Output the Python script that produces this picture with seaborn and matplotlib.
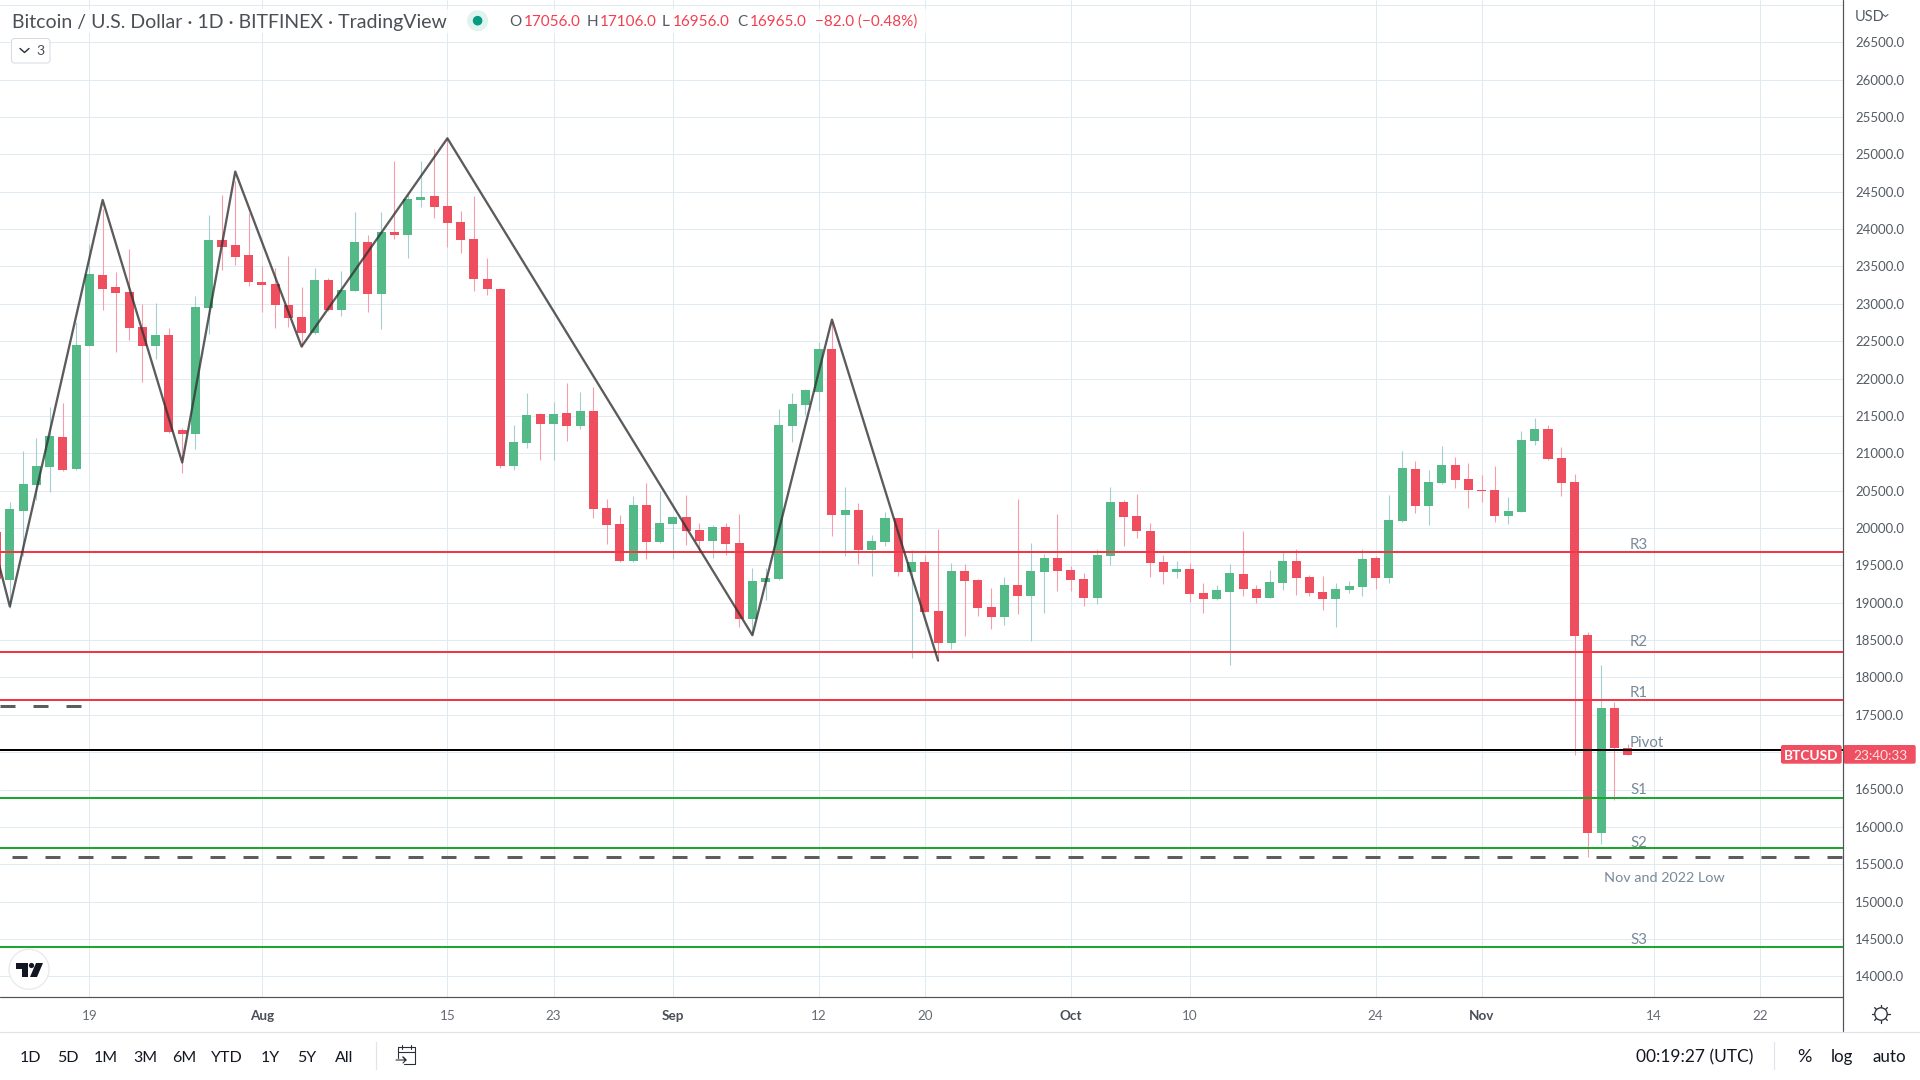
import numpy as np
import pandas as pd
import seaborn as sns
import matplotlib
matplotlib.use("Agg")
import matplotlib.pyplot as plt
import matplotlib.dates as mdates
from matplotlib.patches import Rectangle, FancyBboxPatch, Circle, Polygon

# ---------- data ----------
start_date = "2022-07-12"
open_ = [19948,19306,20229,20577,20818,21219,20791,22437,23387,23226,23160,22691,22437,22584,21313,21259,22945,23855,23788,23655,
         23293,23267,22986,22825,22611,23320,22919,23173,23829,23133,23962,23922,24390,24444,24310,24096,23869,23333,23200,20831,
         21139,21527,21393,21540,21366,21567,20269,20055,19560,20309,19814,20055,20149,19975,19828,20015,19801,18784,19279,19319,
         21366,21647,21821,22397,20175,20242,19707,19814,20135,19413,19547,18891,18463,19426,19306,18945,18811,19239,19092,19413,
         19600,19439,19319,19065,19627,20349,20162,19961,19546,19413,19453,19132,19051,19145,19386,19185,19065,19266,19560,19346,
         19145,19051,19172,19212,19600,19332,20095,20791,20296,20603,20844,20657,20510,20510,20162,20215,21165,21326,20938,20617,
         18567,15922,17590,17056]
close = [19315,20256,20590,20831,21232,20777,22450,23400,23200,23146,22678,22437,22584,21286,21259,22958,23855,23762,23628,23293,
         23253,22986,22812,22611,23320,22919,23186,23829,23133,23962,23922,24404,24431,24297,24083,23855,23333,23200,20831,21152,
         21513,21393,21527,21366,21567,20256,20041,19560,20309,19814,20068,20149,19961,19828,20015,19787,18784,19292,19333,21380,
         21661,21848,22397,20175,20242,19707,19828,20135,19413,19547,18878,18463,19426,19292,18931,18811,19239,19092,19426,19600,
         19426,19306,19065,19640,20349,20149,19961,19533,19413,19453,19118,19051,19172,19399,19185,19065,19279,19560,19332,19132,
         19051,19185,19225,19587,19332,20108,20804,20296,20617,20844,20644,20510,20497,20162,20229,21179,21326,20925,20603,18556,
         15922,17590,17056,16965]
high = [20100,20354,21032,21206,21620,21674,22762,23802,24266,23427,23735,22999,23012,22678,21335,23106,24190,24457,24650,24212,
        23507,23481,23641,23226,23481,23347,23440,24230,23922,24230,24912,24450,24912,25073,25215,24243,24444,23614,23213,21380,
        21808,21540,21687,21941,21821,21888,20389,20175,20430,20604,20497,20160,20443,20068,20042,20068,20189,19466,19466,21594,
        21808,21861,22490,22770,20550,20336,19908,20216,20140,19707,19640,19988,19533,19520,19319,19199,19346,20390,19801,19653,
        20189,19493,19399,19720,20550,20376,20456,20068,19640,19560,19533,19265,19239,19520,19961,19239,19439,19694,19720,19373,
        19359,19265,19292,19720,19627,20443,21032,20898,20777,21098,20951,20871,20710,20831,20416,21299,21473,21379,21085,20724,
        18603,18166,17670,17106]
low = [19200,18926,19627,20376,20483,20764,20777,22437,22919,22361,22517,21959,22263,21272,20742,21058,22597,23454,23521,23240,
       22892,22678,22695,22428,22598,22900,22838,23170,22892,22664,23869,23614,24297,24150,23762,23681,23173,23119,20804,20777,
       21072,20911,20911,21165,21326,20135,19787,19546,19550,19587,19800,19587,19774,19665,19600,19640,18677,18570,19038,19310,
       21152,21514,21567,19894,19627,19520,19359,19761,19359,18262,18870,18222,18383,18557,18824,18650,18704,18851,18490,18864,
       19158,19158,18958,18984,19506,19761,19868,19346,19252,19332,19011,18864,19038,18168,19092,18998,19060,19172,19105,19092,
       18904,18677,19132,19092,19185,19265,20082,20202,20041,20590,20537,20269,20349,20082,20055,20215,21112,20911,20430,16961,
       15601,15770,16359,16956]

zig_dates = ["2022-07-12","2022-07-13","2022-07-20","2022-07-26","2022-07-30","2022-08-04","2022-08-15","2022-09-07","2022-09-13","2022-09-21"]
zig_prices = [19640,18949,24390,20876,24770,22428,25215,18565,22789,18226]

level_names = ["R3","R2","R1","Pivot","S1","S2","S3"]
level_values = [19672,18339,17697,17028,16386,15717,14396]
level_colors = ["#f23645","#f23645","#f23645","#000000","#1aa82c","#1aa82c","#1aa82c"]
low_2022 = 15593
old_level = 17617

tick_dates = ["2022-07-19","2022-08-01","2022-08-15","2022-08-23","2022-09-01","2022-09-12","2022-09-20",
              "2022-10-01","2022-10-10","2022-10-24","2022-11-01","2022-11-14","2022-11-22"]
tick_labels = ["19","Aug","15","23","Sep","12","20","Oct","10","24","Nov","14","22"]
price_ticks = np.arange(14000, 27001, 500)
range_buttons = ["1D","5D","1M","3M","6M","YTD","1Y","5Y","All"]

# ---------- style ----------
W, H = 1920, 1080
sns.set_theme(style="white", rc={"lines.scale_dashes": False, "axes.linewidth": 0})
FONT = "Lato"
plt.rcParams["font.family"] = [FONT, "DejaVu Sans"]
px = 0.72  # points per pixel at 100 dpi

GREEN, RED = "#53b987", "#ee4e5e"
GREEN_W, RED_W = "#a3cfd0", "#f59dac"
GRID = "#e0eaf1"

fig = plt.figure(figsize=(W/100, H/100), dpi=100, facecolor="white")
AX_R, AX_B = 1843.3, 997.3
ax = fig.add_axes([0, 1-AX_B/H, AX_R/W, AX_B/H])

dates = pd.date_range(start_date, periods=len(open_))
x = mdates.date2num(dates)
o, c, hi, lo = map(np.array, (open_, close, high, low))
up = c >= o
x0 = mdates.date2num(pd.Timestamp("2022-07-19"))
day_px = 13.26
xmin = x0 - 89.4/day_px
xmax = x0 + (AX_R-89.4)/day_px
ymax = 26500 + 42.3/0.07472
ymin = 26500 - (AX_B-42.3)/0.07472

# grid
ax.set_axisbelow(True)
ax.grid(True, color=GRID, lw=1.0*px)

# candles
ax.vlines(x[up], lo[up], hi[up], color=GREEN_W, lw=1.1*px, zorder=2)
ax.vlines(x[~up], lo[~up], hi[~up], color=RED_W, lw=1.1*px, zorder=2)
ax.bar(x[up], (c-o)[up], bottom=o[up], width=0.68, color=GREEN, linewidth=0, zorder=3)
ax.bar(x[~up], (o-c)[~up], bottom=c[~up], width=0.68, color=RED, linewidth=0, zorder=3)

# zigzag
sns.lineplot(x=mdates.date2num(pd.to_datetime(zig_dates)), y=zig_prices, sort=False, estimator=None,
             color="#333333", alpha=0.8, lw=2.3*px, ax=ax, zorder=5, legend=False)

# levels
for v, col in zip(level_values, level_colors):
    ax.axhline(v, color=col, lw=2.0*px, zorder=4)
ax.plot([xmin, xmin+81/day_px], [old_level]*2, color="#5d5d5d", lw=3.0*px,
        linestyle=(0, (15*px, 18*px)), dash_capstyle="butt", zorder=4)
ax.plot([xmin, xmax], [low_2022]*2, color="#5d5d5d", lw=3.0*px,
        linestyle=(21*px, (15*px, 18*px)), dash_capstyle="butt", zorder=4)

ax.set_xlim(xmin, xmax)
ax.set_ylim(ymin, ymax)

# axes ticks
ax.yaxis.tick_right()
ax.set_yticks(price_ticks)
ax.set_yticklabels(["" if p == 27000 else f"{p:.1f}" for p in price_ticks], fontsize=13.2*px, color="#555b63")
ax.tick_params(axis="y", length=0, pad=8.5)
ax.set_xticks(mdates.date2num(pd.to_datetime(tick_dates)))
ax.set_xticklabels(tick_labels, fontsize=13.5*px)
ax.tick_params(axis="x", length=0, pad=9)
for t, s in zip(ax.get_xticklabels(), tick_labels):
    if s.isalpha():
        t.set_color("#4a4f57"); t.set_fontweight("bold")
    else:
        t.set_color("#666c74")

# ---------- chrome overlay in pixels ----------
ov = fig.add_axes([0, 0, 1, 1], facecolor="none")
ov.set_xlim(0, W); ov.set_ylim(H, 0); ov.axis("off")

def txt(xp, yp, s, size=15, color="#555b63", ha="left", va="center", **kw):
    return ov.text(xp, yp, s, fontsize=size*px, color=color, ha=ha, va=va, **kw)

# frame lines
ov.plot([0, AX_R], [AX_B, AX_B], color="#50535a", lw=1.2*px)
ov.plot([AX_R, AX_R], [0, 1031], color="#50535a", lw=1.2*px)
ov.plot([0, W], [1031.5, 1031.5], color="#e0e3eb", lw=1.2*px)

# header
ov.add_patch(Rectangle((6, 9), 920, 24, facecolor="white", alpha=0.75, lw=0))
txt(11.5, 22.5, "Bitcoin / U.S. Dollar · 1D · BITFINEX · TradingView", size=19.5, color="#4b4f56")
ov.add_patch(Circle((477.6, 20.7), 10.5, facecolor="#dff3ef", lw=0))
ov.add_patch(Circle((477.6, 20.7), 4.8, facecolor="#089981", lw=0))
RV = "#f23f50"
for xp, s, col in [(509,"O","#555b63"),(524,"17056.0",RV),(586.5,"H","#555b63"),(600,"17106.0",RV),
                   (662,"L","#555b63"),(673,"16956.0",RV),(737,"C","#555b63"),(750,"16965.0",RV),
                   (815,"−82.0 (−0.48%)",RV)]:
    txt(xp, 22, s, size=15.3, color=col)

ov.add_patch(FancyBboxPatch((11.5, 38.5), 38.5, 24.5, boxstyle="round,pad=0,rounding_size=3",
                            facecolor="white", edgecolor="#d5dae2", lw=1*px))
ov.plot([20, 24.5, 29], [48.5, 52.5, 48.5], color="#2a2e39", lw=1.4*px)
txt(40, 51, "3", size=14, color="#4b4f56", ha="center")

# price axis header
txt(1855, 16.7, "USD", size=14.5, color="#555b63")
ov.plot([1883, 1885.5, 1888], [14.5, 16.5, 14.5], color="#555b63", lw=1.1*px)

# level labels
lab_y = [544.7, 641.7, 692.7, 742.7, 790, 842.7, 939.6]
for s, yp in zip(level_names, lab_y):
    txt(1630, yp, s, size=15, color="#78899a")
txt(1604, 877.7, "Nov and 2022 Low", size=14.4, color="#78899a")

# price tag
BOX = "#ef4f60"
ov.add_patch(FancyBboxPatch((1781, 745), 60.7, 18.7, boxstyle="round,pad=0,rounding_size=2", facecolor=BOX, lw=0))
ov.add_patch(FancyBboxPatch((1843.5, 745), 72.2, 18.7, boxstyle="round,pad=0,rounding_size=2", facecolor=BOX, lw=0))
txt(1811.3, 755.5, "BTCUSD", size=13.6, color="white", ha="center", fontweight="bold")
txt(1880.5, 755.5, "23:40:33", size=13.6, color="#fbe3e6", ha="center")

# TV logo
ov.add_patch(Circle((29, 969.3), 20, facecolor="white", edgecolor="#e6e8ec", lw=1.2*px, zorder=6))
ov.add_patch(Polygon([(16,963),(28,963),(28,977),(22,977),(22,969),(16,969)], facecolor="#131722", lw=0, zorder=7))
ov.add_patch(Circle((31.5, 965.5), 2.6, facecolor="#131722", lw=0, zorder=7))
ov.add_patch(Polygon([(36,963),(43,963),(37,977),(30,977)], facecolor="#131722", lw=0, zorder=7))

# gear
gx, gy = 1881, 1014
ov.add_patch(Circle((gx, gy), 6.2, facecolor="white", edgecolor="#2a2e39", lw=1.3*px, zorder=6))
for a in np.arange(0, 2*np.pi, np.pi/4):
    ov.plot([gx+6.2*np.cos(a), gx+9*np.cos(a)], [gy+6.2*np.sin(a), gy+9*np.sin(a)], color="#2a2e39", lw=1.3*px)

# bottom bar
for xp, s in zip([30,68,106,145,184,227,270,306.5,344], range_buttons):
    txt(xp, 1057.5, s, size=16, color="#131722", ha="center")
ov.plot([375.5, 375.5], [1042, 1069], color="#e0e3eb", lw=1.2*px)
ov.plot([1774, 1774], [1042, 1069], color="#e0e3eb", lw=1.2*px)
# calendar icon
ov.plot([398, 398, 414.5, 414.5, 404], [1058, 1047, 1047, 1064, 1064], color="#2a2e39", lw=1.1*px)
ov.plot([398, 414.5], [1051.5, 1051.5], color="#2a2e39", lw=1.1*px)
ov.plot([402, 402], [1045, 1049], color="#2a2e39", lw=1.1*px)
ov.plot([410.5, 410.5], [1045, 1049], color="#2a2e39", lw=1.1*px)
ov.plot([396, 406, 403, 406, 403], [1060, 1060, 1057, 1060, 1063], color="#2a2e39", lw=1.1*px)

txt(1636, 1057, "00:19:27 (UTC)", size=17.4, color="#131722")
txt(1804, 1057, "%", size=18, color="#131722", ha="center")
txt(1842, 1057, "log", size=17, color="#131722", ha="center")
txt(1889, 1057, "auto", size=17, color="#131722", ha="center")

fig.savefig("out.png", dpi=100, facecolor="white")
